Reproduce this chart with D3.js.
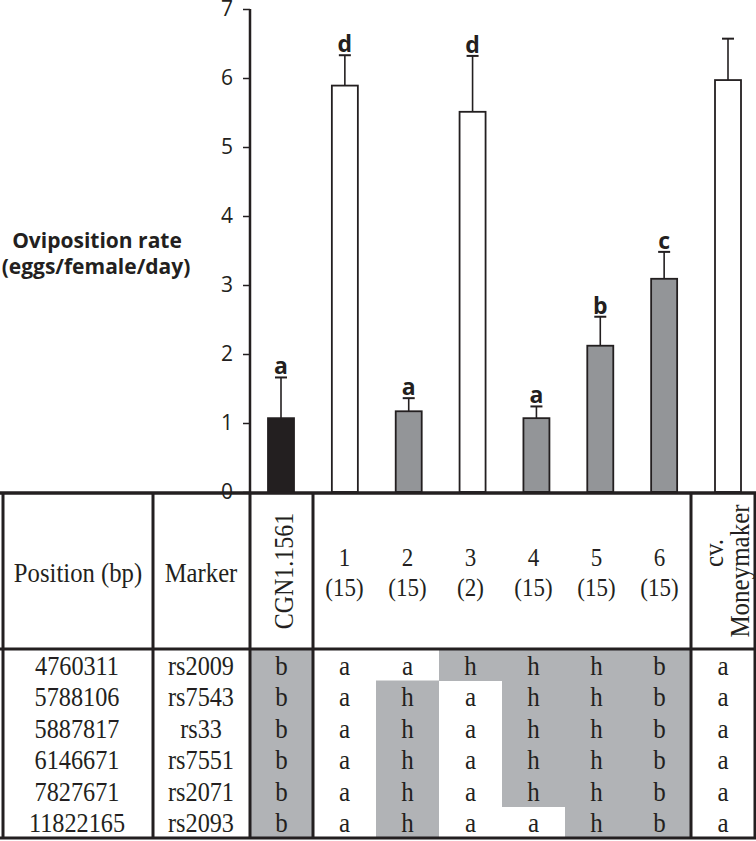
<!DOCTYPE html>
<html>
<head>
<meta charset="utf-8">
<script src="https://cdn.jsdelivr.net/npm/d3@7"></script>
<style>
  body { margin: 0; background: #fff; }
  svg { display: block; }
</style>
</head>
<body>
<script>
// chart data
const groups = ["CGN1.1561", "1", "2", "3", "4", "5", "6", "Moneymaker"];
const means = [1.07, 5.89, 1.17, 5.51, 1.07, 2.12, 3.09, 5.97];
const errs = [0.59, 0.44, 0.19, 0.81, 0.17, 0.42, 0.39, 0.60];
const letters = ["a", "d", "a", "d", "a", "b", "c", ""];
const fills = ["#231f20", "#ffffff", "#939598", "#ffffff", "#939598", "#939598", "#939598", "#ffffff"];
const yTicks = [0, 1, 2, 3, 4, 5, 6, 7];

// table data
const lineIds = ["1", "2", "3", "4", "5", "6"];
const lineCounts = ["(15)", "(15)", "(2)", "(15)", "(15)", "(15)"];
const positions = ["4760311", "5788106", "5887817", "6146671", "7827671", "11822165"];
const markers = ["rs2009", "rs7543", "rs33", "rs7551", "rs2071", "rs2093"];
const cgnCalls = ["b", "b", "b", "b", "b", "b"];
const lineCalls = [
  ["a", "a", "h", "h", "h", "b"],
  ["a", "h", "a", "h", "h", "b"],
  ["a", "h", "a", "h", "h", "b"],
  ["a", "h", "a", "h", "h", "b"],
  ["a", "h", "a", "h", "h", "b"],
  ["a", "h", "a", "a", "h", "b"]
];
const mmCalls = ["a", "a", "a", "a", "a", "a"];

const W = 756, H = 841;
const ink = "#231f20";
const shade = "#b1b3b6";
const serif = "'Liberation Serif', 'Times New Roman', serif";
const sans = "'Open Sans', 'Liberation Sans', sans-serif";

const svg = d3.select("body").append("svg")
  .attr("width", W)
  .attr("height", H);

// scales
const y = d3.scaleLinear().domain([0, 7]).range([492, 9]);
const x = d3.scalePoint().domain(groups).range([281, 728]);
const barW = 26;

// y axis
const yAxis = d3.axisLeft(y)
  .tickValues(yTicks)
  .tickFormat(d3.format("d"))
  .tickSize(7)
  .tickSizeOuter(0)
  .tickPadding(10);

const axisG = svg.append("g")
  .attr("transform", "translate(250,0)")
  .call(yAxis);
axisG.select(".domain").remove();
axisG.selectAll(".tick line").attr("stroke", ink).attr("stroke-width", 1.5);
axisG.selectAll(".tick text")
  .attr("fill", ink)
  .style("font-family", sans)
  .style("font-size", "21px");

// axis title
const title = svg.append("text")
  .attr("text-anchor", "middle")
  .attr("fill", ink)
  .style("font-family", sans)
  .style("font-weight", "bold")
  .style("font-size", "21px");
title.append("tspan").attr("x", 97).attr("y", 248).text("Oviposition rate");
title.append("tspan").attr("x", 96).attr("y", 274).text("(eggs/female/day)");

// bars
const bars = groups.map((g, i) => ({ g, mean: means[i], err: errs[i], letter: letters[i], fill: fills[i] }));

svg.selectAll("rect.bar")
  .data(bars)
  .enter()
  .append("rect")
  .attr("class", "bar")
  .attr("x", d => x(d.g) - barW / 2)
  .attr("y", d => y(d.mean))
  .attr("width", barW)
  .attr("height", d => y(0) - y(d.mean))
  .attr("fill", d => d.fill)
  .attr("stroke", ink)
  .attr("stroke-width", 1.8);

// error bars (upper only) with cap
svg.selectAll("line.err")
  .data(bars)
  .enter()
  .append("line")
  .attr("class", "err")
  .attr("x1", d => x(d.g))
  .attr("x2", d => x(d.g))
  .attr("y1", d => y(d.mean))
  .attr("y2", d => y(d.mean + d.err))
  .attr("stroke", ink)
  .attr("stroke-width", 1.6);

svg.selectAll("line.cap")
  .data(bars)
  .enter()
  .append("line")
  .attr("class", "cap")
  .attr("x1", d => x(d.g) - 6)
  .attr("x2", d => x(d.g) + 6)
  .attr("y1", d => y(d.mean + d.err))
  .attr("y2", d => y(d.mean + d.err))
  .attr("stroke", ink)
  .attr("stroke-width", 2);

// significance letters
svg.selectAll("text.letter")
  .data(bars.filter(d => d.letter))
  .enter()
  .append("text")
  .attr("class", "letter")
  .attr("x", d => x(d.g))
  .attr("y", d => y(d.mean + d.err) - 3)
  .attr("text-anchor", "middle")
  .attr("fill", ink)
  .style("font-family", sans)
  .style("font-weight", "bold")
  .style("font-size", "23px")
  .text(d => d.letter);

// ---- table ----
const tTop = 493, hBot = 649, tBot = 838;
const colEdges = [3, 153, 250, 313, 691, 755];
const lineX = d3.scaleBand().domain(lineIds).range([313, 691]);
const rowY = d3.scaleBand().domain(positions).range([hBot, tBot]);

const table = svg.append("g");

// white background for the table
table.append("rect")
  .attr("x", 0).attr("y", tTop)
  .attr("width", W).attr("height", tBot - tTop)
  .attr("fill", "#fff");

// shaded cells (non-"a" calls)
const cells = [];
positions.forEach((p, r) => {
  cells.push({ x0: 250, x1: 313, p, v: cgnCalls[r], cx: 281.5 });
  lineIds.forEach((l, c) => {
    cells.push({ x0: lineX(l), x1: lineX(l) + lineX.bandwidth(), p, v: lineCalls[r][c], cx: lineX(l) + lineX.bandwidth() / 2 });
  });
  cells.push({ x0: 691, x1: 755, p, v: mmCalls[r], cx: 723 });
});

table.selectAll("rect.cell")
  .data(cells.filter(d => d.v !== "a"))
  .enter()
  .append("rect")
  .attr("class", "cell")
  .attr("x", d => d.x0)
  .attr("y", d => rowY(d.p))
  .attr("width", d => d.x1 - d.x0)
  .attr("height", rowY.bandwidth() + 0.5)
  .attr("fill", shade);

// helper for serif text with stretch
function stext(g, str, tx, ty, size, sx, sy, rot) {
  return g.append("text")
    .attr("transform", `translate(${tx},${ty}) rotate(${rot || 0}) scale(${sx},${sy})`)
    .attr("text-anchor", "middle")
    .attr("fill", ink)
    .style("font-family", serif)
    .style("font-size", size + "px")
    .text(str);
}

// cell texts
cells.forEach(d => {
  stext(table, d.v, d.cx, rowY(d.p) + rowY.bandwidth() / 2 + 10, 25, 1, 1.1);
});
positions.forEach((p, r) => {
  stext(table, p, 77, rowY(p) + rowY.bandwidth() / 2 + 10, 25, 0.97, 1.1);
  stext(table, markers[r], 201, rowY(p) + rowY.bandwidth() / 2 + 10, 25, 0.97, 1.1);
});

// header texts
stext(table, "Position (bp)", 78, 582, 26, 0.95, 1.08);
stext(table, "Marker", 201, 582, 26, 0.95, 1.08);
stext(table, "CGN1.1561", 293, 571, 24, 1, 1.15, -90);
lineIds.forEach((l, i) => {
  const cx = lineX(l) + lineX.bandwidth() / 2;
  stext(table, l, cx, 566, 23, 1, 1.08);
  stext(table, lineCounts[i], cx, 596, 23, 1, 1.08);
});
stext(table, "cv.", 723, 553, 25, 1, 1.1, -90);
stext(table, "Moneymaker", 749, 571, 25, 1, 1.1, -90);

// grid lines
const hLines = [tTop, hBot, tBot];
table.selectAll("line.h")
  .data(hLines)
  .enter()
  .append("line")
  .attr("x1", 0).attr("x2", W)
  .attr("y1", d => d).attr("y2", d => d)
  .attr("stroke", ink)
  .attr("stroke-width", 3);

table.selectAll("line.v")
  .data(colEdges)
  .enter()
  .append("line")
  .attr("x1", d => d).attr("x2", d => d)
  .attr("y1", tTop).attr("y2", tBot)
  .attr("stroke", ink)
  .attr("stroke-width", 3);

// the "0" tick label sits on the table border in the original
axisG.raise();
svg.append("line")
  .attr("x1", 250).attr("x2", 250)
  .attr("y1", y(7)).attr("y2", y(0))
  .attr("stroke", ink)
  .attr("stroke-width", 2.5);
svg.append("line")
  .attr("x1", 0).attr("x2", W)
  .attr("y1", tTop).attr("y2", tTop)
  .attr("stroke", ink)
  .attr("stroke-width", 3);
</script>
</body>
</html>
